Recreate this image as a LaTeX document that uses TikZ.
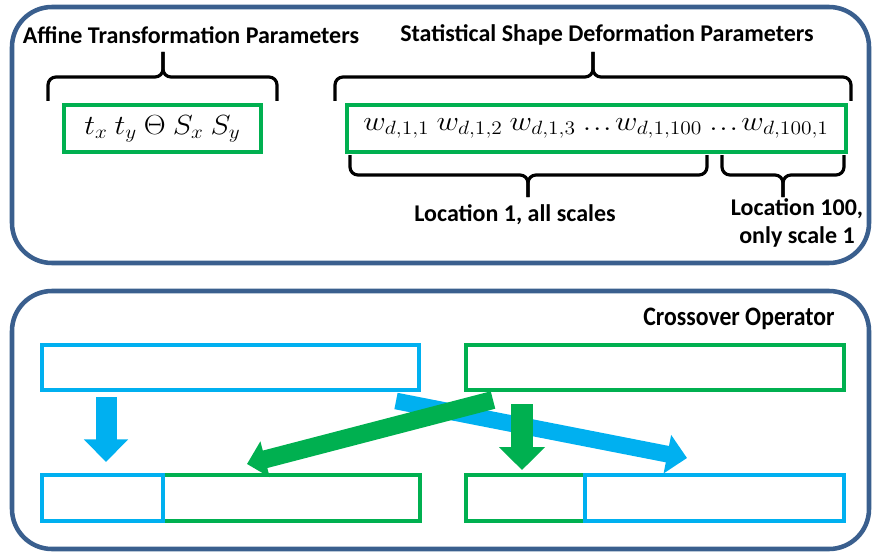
\documentclass[tikz,border=0pt]{standalone}
\usepackage[no-math]{fontspec}
\setmainfont{Carlito}
\usepackage{graphicx}
\usetikzlibrary{arrows.meta}
\definecolor{oborder}{HTML}{3A5F8E}
\definecolor{pgreen}{HTML}{00B050}
\definecolor{pblue}{HTML}{00B0F0}
\tikzset{
  outerbox/.style={draw=oborder, line width=3.4pt, rounded corners=30pt},
  gbox/.style={draw=pgreen, line width=3pt, inner sep=0pt},
  bbox/.style={draw=pblue, line width=3pt, inner sep=0pt},
  brace/.style={draw=black, line width=2.4pt, rounded corners=6pt},
  title/.style={font=\fontsize{18}{21}\selectfont\bfseries, inner sep=0pt},
  mathtxt/.style={font=\fontsize{21}{25}\selectfont, inner sep=0pt},
  barrow/.style={draw=pblue},
  garrow/.style={draw=pgreen},
}
\newcommand{\mydots}{{.}\mkern1mu{.}\mkern1mu{.}\mkern2mu}
\begin{document}
\begin{tikzpicture}[x=0.75pt,y=-0.75pt]
\useasboundingbox (0,0) rectangle (873,556);
% outer panels
\draw[outerbox] (12,7) rectangle (869,263);
\draw[outerbox] (12,291) rectangle (869,549);

% top section
\node[title] (atp) at (191,35) {Affine Transformation Parameters};
\node[title] (ssdp) at (607,35) {Statistical Shape Deformation Parameters};

\node[gbox, minimum width=147.75pt, minimum height=35.25pt, mathtxt] (aff) at (162.5,128.5)
  {\scalebox{1.1}[1]{$t_x\ t_y\ \Theta\ S_x\ S_y$}};
\node[gbox, minimum width=374.25pt, minimum height=35.25pt, mathtxt] (ssd) at (596,128.5)
  {\scalebox{1.12}[1]{$w_{d,1,1}\ w_{d,1,2}\ w_{d,1,3}\ \mydots w_{d,1,100}\ \mydots w_{d,100,1}$}};

% braces
\draw[brace] (48,101) -- (48,77) -- (163,77) -- (163,52);
\draw[brace] (277,101) -- (277,77) -- (163,77) -- (163,52);
\draw[brace] (335,101) -- (335,77) -- (593,77) -- (593,52);
\draw[brace] (851,101) -- (851,77) -- (593,77) -- (593,52);
\draw[brace] (350,155) -- (350,175) -- (528,175) -- (528,197);
\draw[brace] (707,155) -- (707,175) -- (528,175) -- (528,197);
\draw[brace] (722,155) -- (722,175) -- (783,175) -- (783,197);
\draw[brace] (844,155) -- (844,175) -- (783,175) -- (783,197);

\node[title] (loc1) at (515,215) {Location 1, all scales};
\node[title, align=center] (loc100) at (797,223) {Location 100,\\[0pt] only scale 1};

% bottom section
\node[title, font=\fontsize{20}{23}\selectfont\bfseries] (cross) at (739,319)
  {\scalebox{0.89}[1]{Crossover Operator}};

\node[bbox, minimum width=283pt, minimum height=33.75pt] (p1) at (230.75,367.5) {};
\node[gbox, minimum width=283.5pt, minimum height=33.75pt] (p2) at (655,367.5) {};

\node[gbox, minimum width=192.4pt, minimum height=34.5pt] (c1b) at (291.25,498) {};
\node[bbox, minimum width=90.75pt, minimum height=34.5pt] (c1a) at (102.5,498) {};
\node[gbox, minimum width=89.25pt, minimum height=34.5pt] (c2a) at (525.5,498) {};
\node[bbox, minimum width=194.25pt, minimum height=34.5pt] (c2b) at (714.5,498) {};

% arrows
\coordinate (a1s) at (106,397);
\coordinate (a1e) at (106,462);
\coordinate (a2s) at (396,401);
\coordinate (a2e) at (687,458);
\coordinate (a3s) at (493,400);
\coordinate (a3e) at (247,464);
\coordinate (a4s) at (522,404);
\coordinate (a4e) at (522,470);

\draw[barrow, line width=15.75pt, -{Triangle[width=32.25pt,length=17pt]}] (a1s) -- (a1e);
\draw[barrow, line width=12.5pt, -{Triangle[width=28.5pt,length=15pt]}] (a2s) -- (a2e);
\draw[garrow, line width=13.5pt, -{Triangle[width=27pt,length=14pt]}] (a3s) -- (a3e);
\draw[garrow, line width=16.5pt, -{Triangle[width=33.75pt,length=17.25pt]}] (a4s) -- (a4e);
\end{tikzpicture}
\end{document}
